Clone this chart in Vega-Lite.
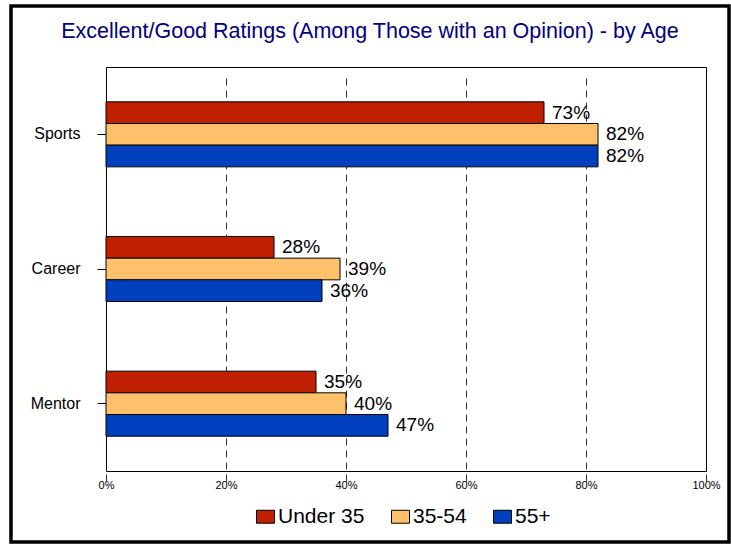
{
  "$schema": "https://vega.github.io/schema/vega-lite/v6.json",
  "width": 718,
  "height": 536,
  "autosize": "none",
  "padding": {"left": 11, "top": 6, "right": 2, "bottom": 2},
  "background": "white",
  "config": {
    "font": "Liberation Sans",
    "view": {"stroke": "black", "strokeWidth": 3.5, "fill": "white"}
  },
  "title": {
    "text": "Excellent/Good Ratings (Among Those with an Opinion) - by Age",
    "orient": "top",
    "frame": "group",
    "anchor": "middle",
    "offset": -53,
    "baseline": "alphabetic",
    "fontSize": 21.5,
    "fontWeight": "normal",
    "color": "#000080",
    "font": "Liberation Sans"
  },
  "data": {
    "values": [
      {"category": "Sports", "age": "Under 35", "value": 0.73},
      {"category": "Sports", "age": "35-54", "value": 0.82},
      {"category": "Sports", "age": "55+", "value": 0.82},
      {"category": "Career", "age": "Under 35", "value": 0.28},
      {"category": "Career", "age": "35-54", "value": 0.39},
      {"category": "Career", "age": "55+", "value": 0.36},
      {"category": "Mentor", "age": "Under 35", "value": 0.35},
      {"category": "Mentor", "age": "35-54", "value": 0.40},
      {"category": "Mentor", "age": "55+", "value": 0.47}
    ]
  },
  "layer": [
    {
      "mark": {"type": "bar", "stroke": "black", "strokeWidth": 1},
      "encoding": {
        "y": {
          "field": "category", "type": "nominal",
          "sort": ["Sports", "Career", "Mentor"],
          "scale": {"range": [61, 465], "paddingInner": 0.517, "paddingOuter": 0.2585},
          "axis": {
            "orient": "left", "offset": -95, "title": null,
            "domain": true, "domainColor": "black", "domainWidth": 1,
            "ticks": true, "tickColor": "black", "tickSize": 9,
            "labelFontSize": 16, "labelColor": "black", "labelPadding": 17,
            "grid": false
          }
        },
        "yOffset": {
          "field": "age", "type": "nominal",
          "sort": ["Under 35", "35-54", "55+"],
          "scale": {"paddingInner": 0, "paddingOuter": 0}
        },
        "x": {
          "field": "value", "type": "quantitative",
          "scale": {"domain": [0, 1], "range": [95, 695], "nice": false},
          "axis": {
            "orient": "bottom", "offset": -71, "title": null,
            "format": ".0%", "values": [0, 0.2, 0.4, 0.6, 0.8, 1],
            "domain": true, "domainColor": "black", "domainWidth": 1,
            "ticks": false, "labelPadding": 8, "labelFontSize": 11,
            "labelColor": "black", "labelFlush": false, "labelOverlap": false,
            "grid": true, "gridDash": [7, 5], "gridColor": "#333333", "gridWidth": 1
          }
        },
        "color": {
          "field": "age", "type": "nominal",
          "sort": ["Under 35", "35-54", "55+"],
          "scale": {"domain": ["Under 35", "35-54", "55+"], "range": ["#C02000", "#FFC06B", "#0040BF"]},
          "legend": {
            "orient": "none", "legendX": 244, "legendY": 500,
            "direction": "horizontal", "title": null,
            "symbolType": "M-1,-0.72H1V0.72H-1Z", "symbolSize": 324,
            "symbolStrokeColor": "black", "symbolStrokeWidth": 1, "symbolFillOpacity": 1,
            "labelFontSize": 21, "labelColor": "black", "labelOffset": 2,
            "columnPadding": 24, "padding": 0
          }
        }
      }
    },
    {
      "mark": {"type": "text", "align": "left", "baseline": "middle", "dx": 8, "fontSize": 19, "color": "black"},
      "encoding": {
        "y": {
          "field": "category", "type": "nominal",
          "sort": ["Sports", "Career", "Mentor"],
          "axis": {
            "orient": "right", "offset": -23, "title": null,
            "domain": true, "domainColor": "black", "domainWidth": 1,
            "labels": false, "ticks": false, "grid": false
          }
        },
        "yOffset": {
          "field": "age", "type": "nominal",
          "sort": ["Under 35", "35-54", "55+"]
        },
        "x": {
          "field": "value", "type": "quantitative",
          "axis": {
            "orient": "top", "offset": -61, "title": null,
            "domain": true, "domainColor": "black", "domainWidth": 1,
            "labels": false, "ticks": false, "grid": false
          }
        },
        "text": {"field": "value", "type": "quantitative", "format": ".0%"}
      }
    }
  ],
  "resolve": {"axis": {"x": "independent", "y": "independent"}}
}
